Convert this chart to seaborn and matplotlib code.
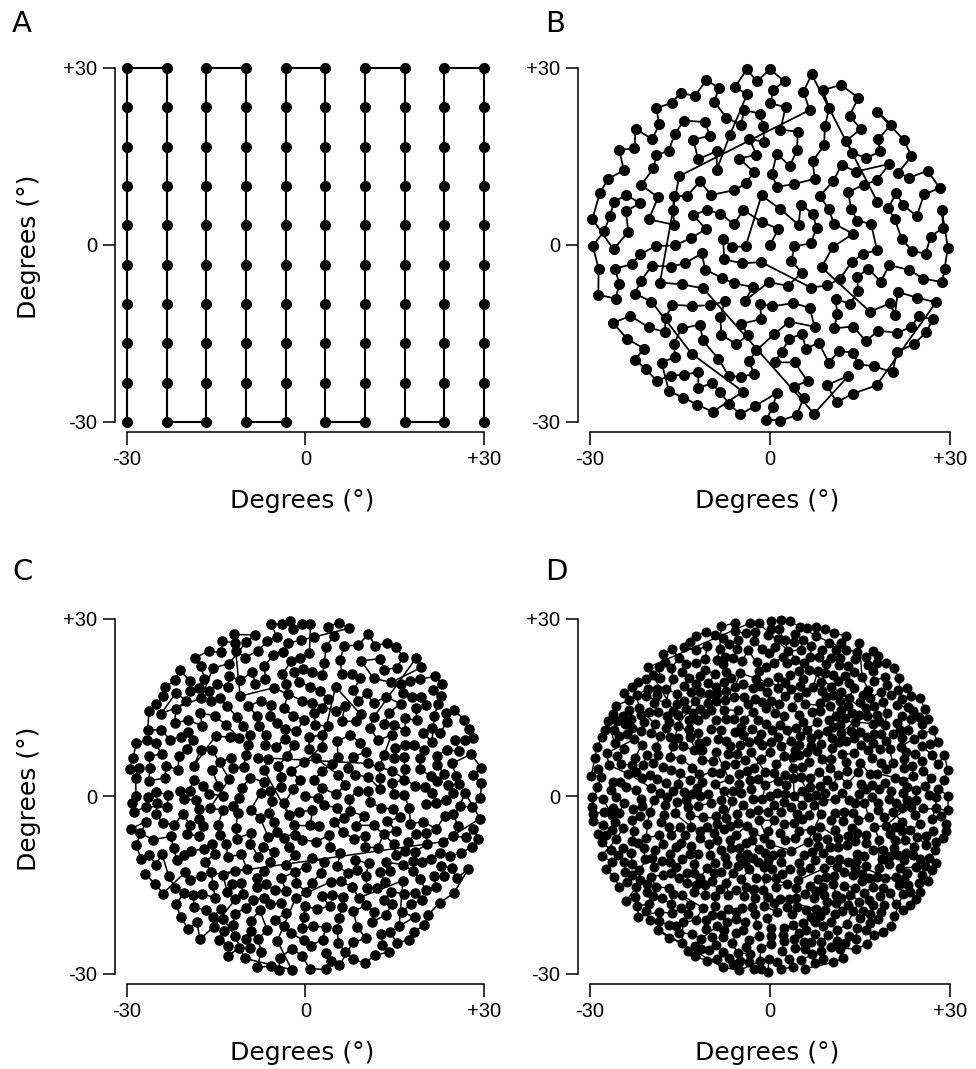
import numpy as np
import pandas as pd
import seaborn as sns
import matplotlib.pyplot as plt

# panel A: 10 x 10 fixation grid, visited column by column (serpentine)
grid_x = [-30, -23.33, -16.67, -10, -3.33, 3.33, 10, 16.67, 23.33, 30]
grid_y = [-30, -23.33, -16.67, -10, -3.33, 3.33, 10, 16.67, 23.33, 30]

# panels B-D: point counts in a disk of radius 30 deg
disk_radius = 30
disk_counts = {"B": 300, "C": 600, "D": 1000}

tick_vals = [-30, 0, 30]
tick_labels = ["-30", "0", "+30"]
panel_letters = ["A", "B", "C", "D"]


def grid_path(xs, ys):
    rows = []
    for i, x in enumerate(xs):
        col = ys if i % 2 == 0 else ys[::-1]
        for y in col:
            rows.append((x, y))
    return pd.DataFrame(rows, columns=["x", "y"])


def disk_path(n, radius, seed):
    # the individual positions cannot be read off the picture, so they are
    # laid out as blue noise in the disk and linked by nearest neighbour
    rng = np.random.default_rng(seed)
    pts = np.zeros((n, 2))
    pts[0] = [0, 0]
    for i in range(1, n):
        k = 40
        r = radius * np.sqrt(rng.random(k))
        t = rng.random(k) * 2 * np.pi
        cand = np.c_[r * np.cos(t), r * np.sin(t)]
        d = np.sqrt(((cand[:, None, :] - pts[None, :i, :]) ** 2).sum(-1)).min(1)
        pts[i] = cand[np.argmax(d)]
    left = list(range(n))
    cur = int(np.argmin(pts[:, 0] ** 2 + pts[:, 1] ** 2))
    order = [cur]
    left.remove(cur)
    while left:
        rem = np.array(left)
        d = ((pts[rem] - pts[cur]) ** 2).sum(1)
        cur = int(rem[np.argmin(d)])
        order.append(cur)
        left.remove(cur)
    p = pts[order]
    return pd.DataFrame({"x": p[:, 0], "y": p[:, 1]})


sns.set_theme(style="ticks")
plt.rcParams["font.family"] = ["Liberation Sans", "DejaVu Sans"]
plt.rcParams["text.color"] = "black"
plt.rcParams["axes.labelcolor"] = "black"

fig = plt.figure(figsize=(9.76, 10.69), dpi=100)
W, H = 976, 1069

# axes boxes in pixels: left, top, right, bottom
boxes = [(115, 62, 490, 432), (578, 62, 956, 432),
         (115, 613, 490, 984), (578, 613, 956, 984)]
styles = [dict(s=64, lw=1.5), dict(s=64, lw=1.3),
          dict(s=58, lw=1.1), dict(s=52, lw=1.0)]
letter_pos = [(12, 32), (545, 32), (12, 580), (545, 580)]

datasets = [grid_path(grid_x, grid_y),
            disk_path(disk_counts["B"], disk_radius, 3),
            disk_path(disk_counts["C"], disk_radius, 5),
            disk_path(disk_counts["D"], disk_radius, 7)]

for i, (box, df) in enumerate(zip(boxes, datasets)):
    l, t, r, b = box
    ax = fig.add_axes([l / W, 1 - b / H, (r - l) / W, (b - t) / H])
    sns.lineplot(data=df, x="x", y="y", sort=False, estimator=None,
                 color="black", lw=styles[i]["lw"], ax=ax)
    sns.scatterplot(data=df, x="x", y="y", color="black", s=styles[i]["s"],
                    linewidth=0, ax=ax, clip_on=False, zorder=3)
    ax.set_xlim(-32, 31)
    ax.set_ylim(-31.7, 31)
    ax.set_xticks(tick_vals)
    ax.set_xticklabels(tick_labels)
    ax.set_yticks(tick_vals)
    ax.set_yticklabels(tick_labels)
    sns.despine(ax=ax)
    ax.spines["left"].set_bounds(-30, 30)
    ax.spines["bottom"].set_bounds(-30, 30)
    for sp in ["left", "bottom"]:
        ax.spines[sp].set_linewidth(1.1)
        ax.spines[sp].set_color("black")
    ax.tick_params(length=9, width=1.1, labelsize=14.5, colors="black", pad=4)
    ax.set_xlabel("Degrees (°)", fontsize=18, family="DejaVu Sans")
    ax.xaxis.set_label_coords(0.5, -57 / (b - t))
    if i % 2 == 0:
        ax.set_ylabel("Degrees (°)", fontsize=18, family="DejaVu Sans")
        ax.yaxis.set_label_coords(-74 / (r - l), 0.5)
    else:
        ax.set_ylabel("")
    ax.set_facecolor("white")
    lx, ly = letter_pos[i]
    fig.text(lx / W, 1 - ly / H, panel_letters[i], fontsize=21,
             family="DejaVu Sans", ha="left", va="baseline")

fig.savefig("out.png", dpi=100, facecolor="white")
